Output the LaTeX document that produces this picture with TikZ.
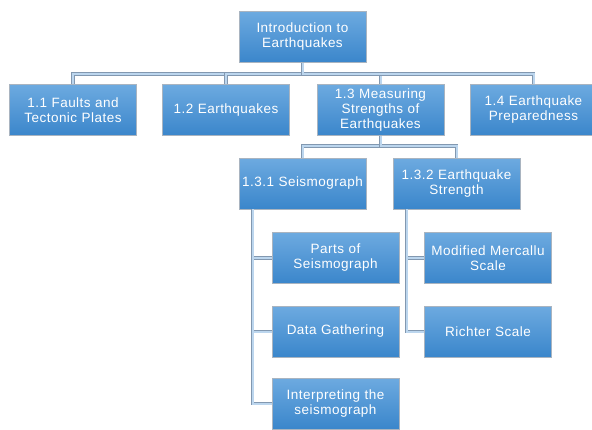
\documentclass[tikz,border=0pt]{standalone}
\usepackage{fontspec}
\setmainfont[LetterSpace=3.5]{Liberation Sans}
\usetikzlibrary{positioning,calc}
\definecolor{boxtop}{HTML}{6DAAE0}
\definecolor{boxbot}{HTML}{3A86CB}
\definecolor{boxedge}{HTML}{A9B4C0}
\definecolor{cnout}{HTML}{8298B0}
\definecolor{cnin}{HTML}{BCD6EE}
\tikzset{
  boxnode/.style={rectangle, draw=boxedge, line width=0.6pt,
    top color=boxtop, bottom color=boxbot,
    minimum width=127pt, minimum height=51pt, text width=124pt,
    align=center, text=white, inner sep=0pt,
    font=\fontsize{13.5}{15}\selectfont},
  conn/.style={draw=cnout, line width=0.7pt, double=cnin, double distance=2pt}
}
\begin{document}
\begin{tikzpicture}[x=1pt,y=-1pt]
\clip (0,0) rectangle (592,429);
\fill[white] (0,0) rectangle (592,429);
\node[boxnode] (root) at (302.5,37) {Introduction to\\Earthquakes};
\node[boxnode] (n11) at (73,110) {1.1 Faults and\\Tectonic Plates};
\node[boxnode] (n12) at (226,110) {1.2 Earthquakes};
\node[boxnode] (n13) at (380.5,110) {1.3 Measuring\\Strengths of\\Earthquakes};
\node[boxnode] (n14) at (533.5,110) {1.4 Earthquake\\Preparedness};
\node[boxnode] (n131) at (302.5,183.5) {1.3.1 Seismograph};
\node[boxnode] (n132) at (456.5,183.5) {1.3.2 Earthquake\\Strength};
\node[boxnode] (parts) at (335.5,258) {Parts of\\Seismograph};
\node[boxnode] (data) at (335.5,331.5) {Data Gathering};
\node[boxnode] (interp) at (335.5,403.5) {Interpreting the\\seismograph};
\node[boxnode] (merc) at (488,258) {Modified Mercallu\\Scale};
\node[boxnode] (rich) at (488,331.5) {Richter Scale};

\draw[conn] (root.south) -- ++(0,11) -| (n11.north);
\draw[conn] (root.south) -- ++(0,11) -| (n12.north);
\draw[conn] (root.south) -- ++(0,11) -| (n13.north);
\draw[conn] (root.south) -- ++(0,11) -| (n14.north);
\draw[conn] (n13.south) -- ++(0,10) -| (n131.north);
\draw[conn] (n13.south) -- ++(0,10) -| (n132.north);
\draw[conn] ([xshift=14pt]n131.south west) |- (parts.west);
\draw[conn] ([xshift=14pt]n131.south west) |- (data.west);
\draw[conn] ([xshift=14pt]n131.south west) |- (interp.west);
\draw[conn] ([xshift=14pt]n132.south west) |- (merc.west);
\draw[conn] ([xshift=14pt]n132.south west) |- (rich.west);
\end{tikzpicture}
\end{document}
